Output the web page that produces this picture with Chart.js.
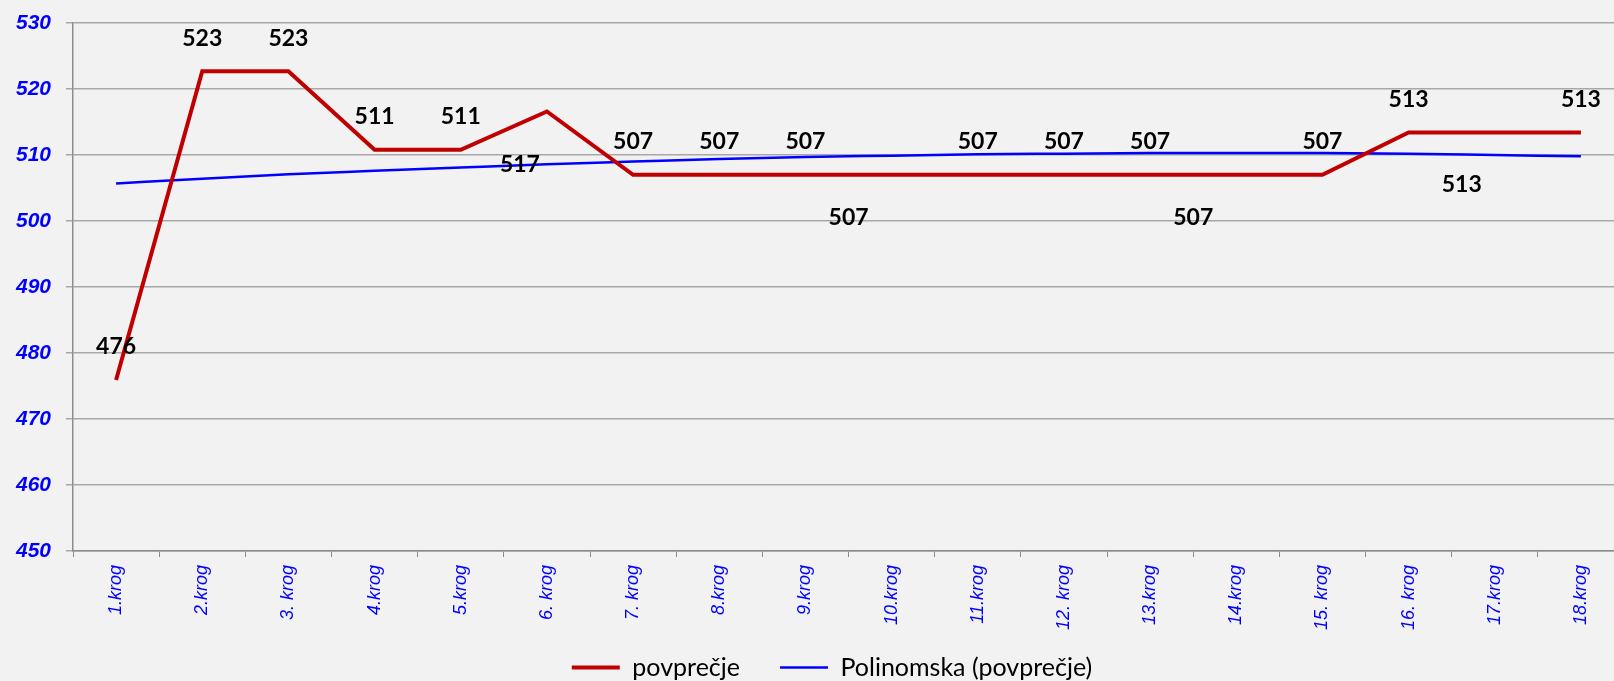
<!DOCTYPE html>
<html>
<head>
<meta charset="utf-8">
<script src="https://cdn.jsdelivr.net/npm/chart.js@4.4.1/dist/chart.umd.min.js"></script>
<style>
  html, body { margin: 0; padding: 0; background: #F2F2F2; overflow: hidden; }
  #wrap { width: 1624px; height: 706px; }
</style>
</head>
<body>
<div id="wrap"><canvas id="chart" width="1624" height="706"></canvas></div>
<script>
// categories on the x axis
const categories = ['1.krog', '2.krog', '3. krog', '4.krog', '5.krog', '6. krog', '7. krog', '8.krog', '9.krog',
    '10.krog', '11.krog', '12. krog', '13.krog', '14.krog', '15. krog', '16. krog', '17.krog', '18.krog'];

// average per round (red line)
const povprecje = [475.9, 522.7, 522.7, 510.8, 510.8, 516.6, 507.0, 507.0, 507.0,
    507.0, 507.0, 507.0, 507.0, 507.0, 507.0, 513.4, 513.4, 513.4];

// polynomial trend line (blue line)
const polinomska = [505.7, 506.4, 507.1, 507.6, 508.1, 508.6, 509.0, 509.4, 509.7,
    509.9, 510.1, 510.2, 510.3, 510.3, 510.3, 510.2, 510.0, 509.8];

// y axis range / ticks
const yMin = 450;
const yMax = 530;
const yStep = 10;

// labels that sit below the line instead of above it: index -> [dx, dy]
const labelShift = { 5: [-27, 53], 9: [-43, 43], 13: [-43, 43], 16: [-33, 52] };

// draw the value labels of the red series
const valueLabels = {
    id: 'valueLabels',
    afterDatasetsDraw(chart) {
        const ctx = chart.ctx;
        const meta = chart.getDatasetMeta(0);
        ctx.save();
        ctx.font = 'bold 23px Lato';
        ctx.fillStyle = '#000';
        ctx.textAlign = 'center';
        ctx.textBaseline = 'middle';
        meta.data.forEach(function(pt, i) {
            const shift = labelShift[i] || [0, -33];
            ctx.fillText(Math.round(povprecje[i]), pt.x + shift[0], pt.y + shift[1]);
        });
        ctx.restore();
    }
};

// nudge the legend: the original one is centred a bit right and sits just under the labels
const legendNudge = {
    id: 'legendNudge',
    afterLayout(chart) {
        const lg = chart.legend;
        lg.left += 20; lg.right += 20;
        lg.top -= 16; lg.bottom -= 16;
    }
};

var ctx = document.getElementById('chart').getContext('2d');
var myChart = new Chart(ctx, {
    type: 'line',
    data: {
        labels: categories,
        datasets: [{
            label: 'povprečje',
            data: povprecje,
            borderColor: '#C00000',
            backgroundColor: '#C00000',
            borderWidth: 4,
            pointRadius: 0,
            tension: 0,
            fill: false
        }, {
            label: 'Polinomska (povprečje)',
            data: polinomska,
            borderColor: '#0000FF',
            backgroundColor: '#0000FF',
            borderWidth: 2.5,
            pointRadius: 0,
            cubicInterpolationMode: 'monotone',
            fill: false
        }]
    },
    options: {
        responsive: false,
        animation: false,
        layout: { padding: { top: 23, left: 0, right: 0, bottom: 0 } },
        plugins: {
            tooltip: { enabled: false },
            legend: {
                position: 'bottom',
                labels: {
                    usePointStyle: true,
                    pointStyle: 'line',
                    pointStyleWidth: 48,
                    padding: 40,
                    color: '#000',
                    font: { family: 'Lato', size: 25 }
                }
            }
        },
        scales: {
            x: {
                offset: true,
                grid: { offset: true, drawOnChartArea: false, drawTicks: true, tickLength: 6, color: '#8C8C8C' },
                border: { color: '#8C8C8C', width: 1.5 },
                ticks: {
                    minRotation: 90,
                    maxRotation: 90,
                    padding: 8,
                    color: '#0000FF',
                    font: { family: 'Liberation Sans', style: 'italic', size: 18 }
                },
                afterFit: function(scale) {
                    scale.height = 80;
                    scale.paddingLeft = 0;
                    scale.paddingRight = 0;
                }
            },
            y: {
                min: yMin,
                max: yMax,
                grid: { color: '#A8A8A8', lineWidth: 1.5, tickLength: 7 },
                border: { color: '#8C8C8C', width: 1.5 },
                ticks: {
                    stepSize: yStep,
                    padding: 15,
                    color: '#0000FF',
                    font: { family: 'Liberation Sans', style: 'italic', weight: 'bold', size: 21 }
                },
                afterFit: function(scale) {
                    scale.width = 73;
                    scale.paddingTop = 0;
                    scale.paddingBottom = 0;
                }
            }
        }
    },
    plugins: [valueLabels, legendNudge]
});
</script>
</body>
</html>
